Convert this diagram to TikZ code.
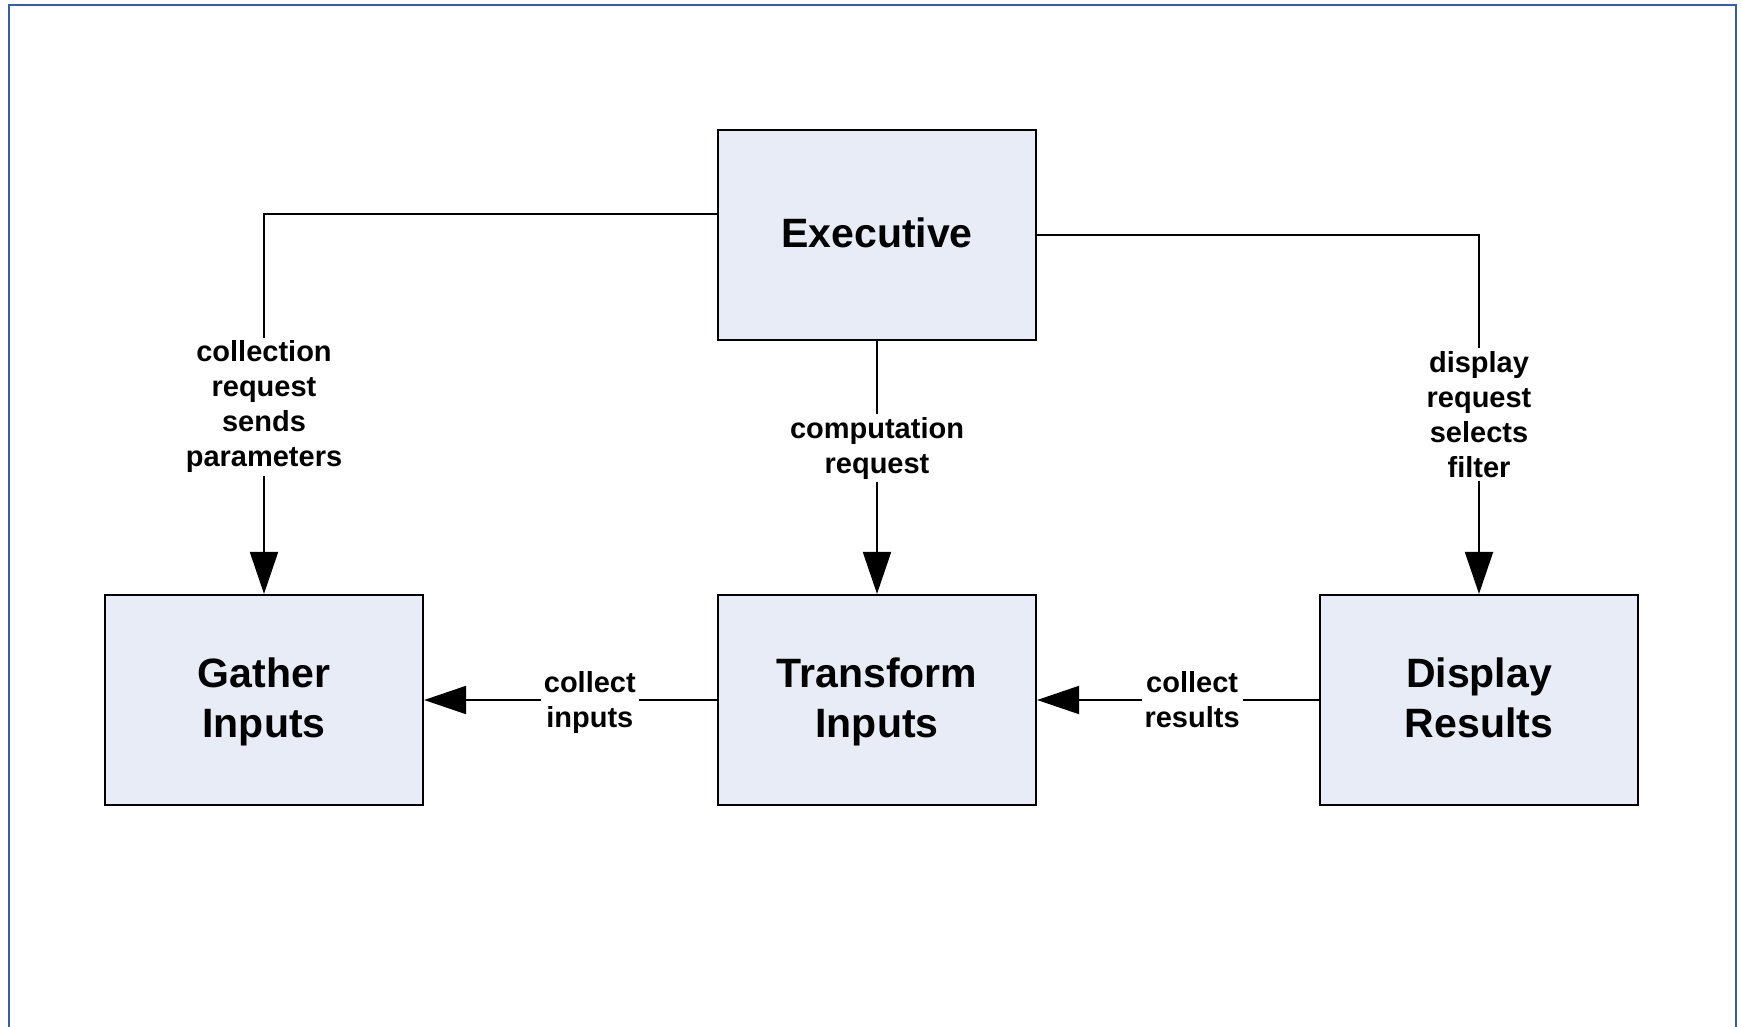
\documentclass[tikz,border=0pt]{standalone}
\usepackage{fontspec}
\setmainfont{Liberation Sans}
\usetikzlibrary{arrows.meta}
\definecolor{frameblue}{RGB}{58,93,160}
\definecolor{boxfill}{RGB}{231,236,246}
\begin{document}
\begin{tikzpicture}[x=1pt,y=-1pt,
  block/.style={draw=black, line width=2.2pt, fill=boxfill, minimum width=318pt,
    minimum height=210pt, align=center, inner sep=0pt, text depth=4pt,
    font=\fontsize{41}{50}\selectfont\bfseries},
  conn/.style={draw=black, line width=2pt},
  arr/.style={conn, -{Triangle[length=42pt,width=28pt]}},
  lbl/.style={fill=white, align=center, inner sep=3pt,
    font=\fontsize{29}{35}\selectfont\bfseries}]
  \useasboundingbox (0,0) rectangle (1741,1026);
  % page frame, open at the bottom
  \draw[frameblue, line width=2.5pt] (9,1030) -- (9,5) -- (1736,5) -- (1736,1030);

  % blocks
  \node[block] (exec)      at (877,235) {Executive};
  \node[block] (gather)    at (264,700) {Gather\\Inputs};
  \node[block] (transform) at (877,700) {Transform\\Inputs};
  \node[block] (display)   at (1479,700) {Display\\Results};

  % requests from the executive
  \draw[arr] ([yshift=21pt]exec.west) -| node[lbl, pos=0.754]
    {collection\\request\\sends\\parameters} (gather.north);
  \draw[arr] (exec.south) -- node[lbl, pos=0.424]
    {computation\\request} (transform.north);
  \draw[arr] (exec.east) -| node[lbl, pos=0.75]
    {display\\request\\selects\\filter} (display.north);

  % data flow along the bottom row
  \draw[arr] (transform.west) -- node[lbl, pos=0.434, yshift=-2.2pt]
    {collect\\inputs} (gather.east);
  \draw[arr] (display.west) -- node[lbl, pos=0.45]
    {collect\\results} (transform.east);
\end{tikzpicture}
\end{document}
